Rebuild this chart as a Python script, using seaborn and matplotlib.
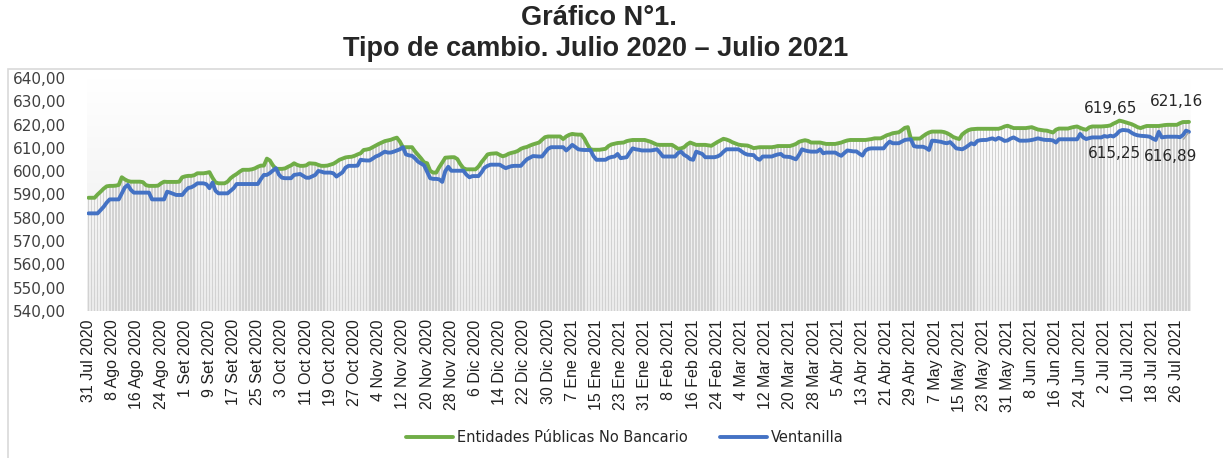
import numpy as np
import pandas as pd
import seaborn as sns
import matplotlib.pyplot as plt
from matplotlib.patches import Rectangle
from matplotlib.ticker import FuncFormatter
from matplotlib.colors import LinearSegmentedColormap

# daily series, 31 Jul 2020 .. 30 Jul 2021
start_date = "2020-07-31"

entidades = [
    588.6, 588.6, 588.6, 590.0, 591.2, 592.5, 593.5, 593.7,
    593.7, 593.8, 594.1, 597.4, 596.5, 595.8, 595.5, 595.5,
    595.5, 595.5, 595.3, 594.0, 593.7, 593.7, 593.7, 593.8,
    594.8, 595.5, 595.4, 595.4, 595.4, 595.4, 595.5, 597.4,
    597.8, 598.0, 598.0, 598.3, 599.1, 599.1, 599.1, 599.3,
    599.6, 597.2, 595.2, 594.8, 594.8, 594.8, 595.5, 597.0,
    598.0, 598.8, 599.8, 600.6, 600.6, 600.6, 600.8, 601.2,
    601.9, 602.4, 602.4, 605.4, 604.6, 602.5, 601.0, 601.0,
    601.0, 601.2, 601.9, 602.5, 603.4, 602.7, 602.3, 602.3,
    602.5, 603.4, 603.3, 603.2, 602.7, 602.3, 602.3, 602.4,
    602.8, 603.2, 604.0, 604.9, 605.4, 605.9, 606.1, 606.2,
    606.6, 607.2, 607.7, 609.1, 609.3, 609.6, 610.3, 611.0,
    611.7, 612.3, 612.9, 613.2, 613.5, 614.0, 614.4, 612.7,
    610.3, 610.3, 610.3, 610.3, 608.5, 607.0, 605.5, 603.8,
    603.4, 600.2, 599.4, 599.4, 601.7, 603.7, 605.8, 605.9,
    606.0, 606.0, 605.2, 603.0, 601.3, 600.8, 600.8, 600.8,
    600.8, 602.0, 603.9, 605.5, 607.2, 607.5, 607.6, 607.7,
    607.0, 606.4, 606.8, 607.5, 607.9, 608.2, 608.7, 609.6,
    610.1, 610.4, 611.0, 611.5, 611.9, 612.3, 613.5, 614.6,
    614.9, 614.9, 614.9, 614.9, 614.9, 613.8, 614.9, 615.6,
    616.0, 615.8, 615.7, 615.7, 614.0, 611.5, 609.4, 609.2,
    609.2, 609.2, 609.4, 609.6, 610.8, 611.5, 611.8, 612.1,
    612.2, 612.3, 612.9, 613.2, 613.4, 613.4, 613.4, 613.4,
    613.4, 613.0, 612.6, 612.0, 611.4, 611.3, 611.3, 611.3,
    611.3, 611.3, 610.5, 609.6, 609.8, 610.3, 611.5, 612.3,
    611.8, 611.3, 611.3, 611.3, 611.3, 611.1, 610.9, 611.7,
    612.5, 613.2, 613.9, 613.6, 613.1, 612.4, 611.9, 611.4,
    611.2, 611.1, 611.0, 610.5, 609.9, 610.1, 610.3, 610.3,
    610.3, 610.3, 610.3, 610.5, 610.8, 610.8, 610.8, 610.8,
    610.8, 611.2, 611.7, 612.6, 613.0, 613.3, 613.0, 612.3,
    612.3, 612.3, 612.3, 612.0, 611.7, 611.7, 611.7, 611.7,
    612.0, 612.3, 612.8, 613.2, 613.4, 613.4, 613.4, 613.4,
    613.4, 613.4, 613.6, 613.8, 614.1, 614.1, 614.1, 614.7,
    615.4, 615.8, 616.3, 616.5, 616.7, 617.6, 618.6, 618.9,
    614.0, 614.0, 614.0, 614.0, 615.0, 615.9, 616.6, 617.0,
    617.0, 617.0, 617.0, 616.8, 616.3, 615.6, 614.7, 614.2,
    613.8, 615.8, 616.8, 617.6, 618.0, 618.1, 618.2, 618.2,
    618.2, 618.2, 618.2, 618.2, 618.2, 618.2, 618.6, 619.2,
    619.5, 619.0, 618.5, 618.5, 618.5, 618.5, 618.5, 618.7,
    618.9, 618.4, 617.9, 617.7, 617.5, 617.4, 617.0, 616.6,
    617.8, 618.3, 618.3, 618.3, 618.3, 618.7, 619.0, 619.2,
    618.6, 618.1, 617.8, 618.8, 619.2, 619.2, 619.2, 619.2,
    619.3, 619.4, 619.65, 620.4, 621.0, 621.7, 621.4, 621.0,
    620.6, 620.2, 619.6, 618.9, 618.5, 619.0, 619.4, 619.4,
    619.4, 619.4, 619.4, 619.6, 619.8, 619.9, 619.9, 619.9,
    619.9, 620.6, 621.1, 621.1, 621.16,
]

ventanilla = [
    581.9, 581.9, 581.9, 581.9, 583.3, 584.7, 586.5, 587.9,
    587.9, 587.9, 587.9, 590.5, 593.0, 594.1, 592.0, 590.8,
    590.8, 590.8, 590.8, 590.8, 590.8, 587.9, 587.9, 587.9,
    587.9, 587.9, 591.2, 590.8, 590.3, 589.8, 589.8, 589.8,
    591.5, 592.8, 593.1, 593.8, 594.8, 594.8, 594.8, 594.4,
    592.7, 595.1, 591.6, 590.5, 590.5, 590.5, 590.5, 591.6,
    592.7, 594.5, 594.5, 594.5, 594.5, 594.5, 594.5, 594.5,
    594.5, 596.6, 598.4, 598.4, 599.2, 600.3, 601.3, 598.5,
    597.2, 597.0, 597.0, 597.0, 598.4, 598.6, 598.8, 598.0,
    597.2, 597.2, 597.8, 598.4, 600.1, 599.8, 599.4, 599.4,
    599.4, 599.1, 597.7, 598.6, 599.5, 601.5, 602.3, 602.3,
    602.3, 602.4, 604.9, 604.7, 604.6, 604.6, 605.4, 606.3,
    606.8, 607.6, 608.4, 608.0, 608.0, 608.4, 608.9, 609.4,
    610.3, 607.2, 606.8, 606.6, 605.5, 604.1, 603.3, 602.5,
    599.8, 597.0, 596.7, 596.7, 596.5, 595.4, 600.0, 601.9,
    600.2, 600.2, 600.2, 600.2, 600.2, 598.5, 597.4, 597.9,
    597.9, 597.9, 599.5, 601.5, 602.3, 602.8, 602.8, 602.8,
    602.8, 602.0, 601.3, 601.8, 602.2, 602.3, 602.3, 602.3,
    603.8, 605.1, 605.8, 606.5, 606.4, 606.3, 606.3, 608.0,
    609.6, 610.3, 610.3, 610.3, 610.3, 610.3, 608.9, 610.0,
    611.3, 610.4, 609.4, 609.2, 609.1, 609.1, 609.1, 606.5,
    604.9, 604.9, 604.9, 604.9, 605.7, 606.1, 606.3, 607.4,
    605.6, 605.8, 606.0, 608.0, 609.8, 609.4, 609.2, 608.9,
    608.9, 608.9, 608.9, 609.1, 609.4, 608.0, 606.3, 606.3,
    606.3, 606.3, 606.3, 607.8, 608.4, 607.0, 606.3, 605.2,
    604.9, 608.4, 607.9, 607.4, 606.0, 606.0, 606.0, 606.0,
    606.3, 607.0, 608.3, 609.4, 609.4, 609.4, 609.4, 609.4,
    608.5, 607.6, 607.1, 607.0, 606.9, 605.5, 604.9, 606.3,
    606.3, 606.3, 606.3, 606.8, 607.2, 607.4, 606.3, 606.2,
    606.1, 605.6, 605.1, 607.0, 609.4, 608.9, 608.6, 608.4,
    608.4, 608.4, 609.4, 607.7, 608.0, 608.0, 608.0, 608.0,
    607.2, 606.6, 607.8, 608.9, 608.7, 608.5, 608.5, 607.5,
    606.7, 608.9, 609.6, 609.8, 609.8, 609.8, 609.8, 609.8,
    611.5, 612.7, 612.0, 612.0, 612.0, 612.7, 613.4, 613.6,
    613.7, 610.8, 610.5, 610.5, 610.5, 610.0, 609.1, 613.1,
    613.0, 612.8, 612.6, 612.2, 612.0, 612.5, 611.2, 609.8,
    609.6, 609.4, 610.1, 611.0, 612.0, 611.5, 613.0, 613.3,
    613.4, 613.4, 613.8, 614.1, 613.5, 614.3, 613.8, 613.0,
    613.2, 614.0, 614.5, 613.8, 613.1, 613.1, 613.1, 613.2,
    613.4, 613.7, 614.1, 613.8, 613.5, 613.4, 613.4, 613.2,
    612.3, 613.7, 613.7, 613.7, 613.7, 613.7, 613.7, 613.7,
    616.0, 614.5, 613.8, 614.2, 614.5, 614.5, 614.5, 614.5,
    615.1, 614.8, 615.25, 614.9, 615.8, 617.2, 617.7, 617.6,
    617.4, 616.5, 615.8, 615.4, 615.2, 615.1, 615.0, 614.8,
    614.0, 613.4, 616.9, 614.5, 614.7, 614.8, 614.8, 614.8,
    614.8, 614.6, 615.5, 617.4, 616.89,
]

tick_labels = [
    "31 Jul 2020", "8 Ago 2020", "16 Ago 2020", "24 Ago 2020", "1 Set 2020",
    "9 Set 2020", "17 Set 2020", "25 Set 2020", "3 Oct 2020", "11 Oct 2020",
    "19 Oct 2020", "27 Oct 2020", "4 Nov 2020", "12 Nov 2020", "20 Nov 2020",
    "28 Nov 2020", "6 Dic 2020", "14 Dic 2020", "22 Dic 2020", "30 Dic 2020",
    "7 Ene 2021", "15 Ene 2021", "23 Ene 2021", "31 Ene 2021", "8 Feb 2021",
    "16 Feb 2021", "24 Feb 2021", "4 Mar 2021", "12 Mar 2021", "20 Mar 2021",
    "28 Mar 2021", "5 Abr 2021", "13 Abr 2021", "21 Abr 2021", "29 Abr 2021",
    "7 May 2021", "15 May 2021", "23 May 2021", "31 May 2021", "8 Jun 2021",
    "16 Jun 2021", "24 Jun 2021", "2 Jul 2021", "10 Jul 2021", "18 Jul 2021",
    "26 Jul 2021",
]

# days (index) that carry a data label
label_days = [338, 364]

green = "#70ad47"
blue = "#4472c4"

df = pd.DataFrame({
    "fecha": pd.date_range(start_date, periods=len(entidades), freq="D"),
    "Entidades Públicas No Bancario": entidades,
    "Ventanilla": ventanilla,
})
df["dia"] = np.arange(len(df))

sns.set_style("white")
plt.rcParams["font.family"] = ["DejaVu Sans"]

fig = plt.figure(figsize=(12.23, 4.58), dpi=100)
ax = fig.add_axes([87 / 1223, 1 - 311 / 458, 1105 / 1223, 233 / 458])

# faint gradient in the plot area
grad = LinearSegmentedColormap.from_list("g", ["#ffffff", "#ebebeb"])
ax.imshow(np.linspace(0, 1, 100).reshape(-1, 1), aspect="auto", cmap=grad,
          extent=(-0.5, len(df) - 0.5, 540, 640), origin="upper", zorder=0)

# grey drop bars under the series
ax.bar(df["dia"], df["Entidades Públicas No Bancario"] - 540, bottom=540,
       width=0.55, color="#d2d2d2", linewidth=0, zorder=1)

sns.lineplot(data=df, x="dia", y="Entidades Públicas No Bancario", color=green,
             linewidth=2.8, label="Entidades Públicas No Bancario", ax=ax, zorder=3)
sns.lineplot(data=df, x="dia", y="Ventanilla", color=blue,
             linewidth=2.8, label="Ventanilla", ax=ax, zorder=3)

ax.set_xlim(-0.5, len(df))
ax.set_ylim(540, 640)
ax.set_yticks(np.arange(540, 641, 10))
ax.yaxis.set_major_formatter(FuncFormatter(lambda v, p: f"{v:.2f}".replace(".", ",")))
ax.set_xticks(df["dia"][::8])
ax.set_xticklabels(tick_labels, rotation=90, family="Liberation Sans", fontsize=11.5)
ax.tick_params(axis="y", labelsize=11, colors="#404040", length=0, pad=15)
ax.tick_params(axis="x", colors="#202020", length=0, pad=6)
ax.set_xlabel("")
ax.set_ylabel("")
for s in ax.spines.values():
    s.set_visible(False)

# data labels
for d in label_days:
    g = df["Entidades Públicas No Bancario"][d]
    b = df["Ventanilla"][d]
    gtxt = f"{g:.2f}".replace(".", ",")
    btxt = f"{b:.2f}".replace(".", ",")
    if d == label_days[-1]:
        ax.annotate(gtxt, (d, g), xytext=(-9, 15), textcoords="offset points",
                    ha="center", va="center", fontsize=11, color="#262626")
        ax.annotate(btxt, (d, b), xytext=(-13, -18), textcoords="offset points",
                    ha="center", va="center", fontsize=11, color="#262626",
                    arrowprops=dict(arrowstyle="-", color="#a6a6a6", lw=1,
                                    shrinkA=6, shrinkB=1))
    else:
        ax.annotate(gtxt, (d, g), xytext=(0, 12), textcoords="offset points",
                    ha="center", va="center", fontsize=11, color="#262626")
        ax.annotate(btxt, (d, b), xytext=(3, -13), textcoords="offset points",
                    ha="center", va="center", fontsize=11, color="#262626")

ax.legend(loc="center", bbox_to_anchor=(625 / 1223, 1 - 438 / 458),
          bbox_transform=fig.transFigure, ncol=2, frameon=False, fontsize=10.5,
          handlelength=3.2, columnspacing=2.2, handletextpad=0.3)

fig.text(0.49, 1 - 18 / 458, "Gráfico N°1.", ha="center", va="center",
         fontsize=19.5, fontweight="bold", family="Liberation Sans")
fig.text(0.487, 1 - 49 / 458, "Tipo de cambio. Julio 2020 – Julio 2021", ha="center",
         va="center", fontsize=19.5, fontweight="bold", family="Liberation Sans")

# chart frame
fig.add_artist(Rectangle((8 / 1223, -0.05), 1.2, 1 - 69 / 458 + 0.05,
                         transform=fig.transFigure, fill=False,
                         edgecolor="#d9d9d9", lw=1.2))

fig.savefig("out.png", dpi=100)
